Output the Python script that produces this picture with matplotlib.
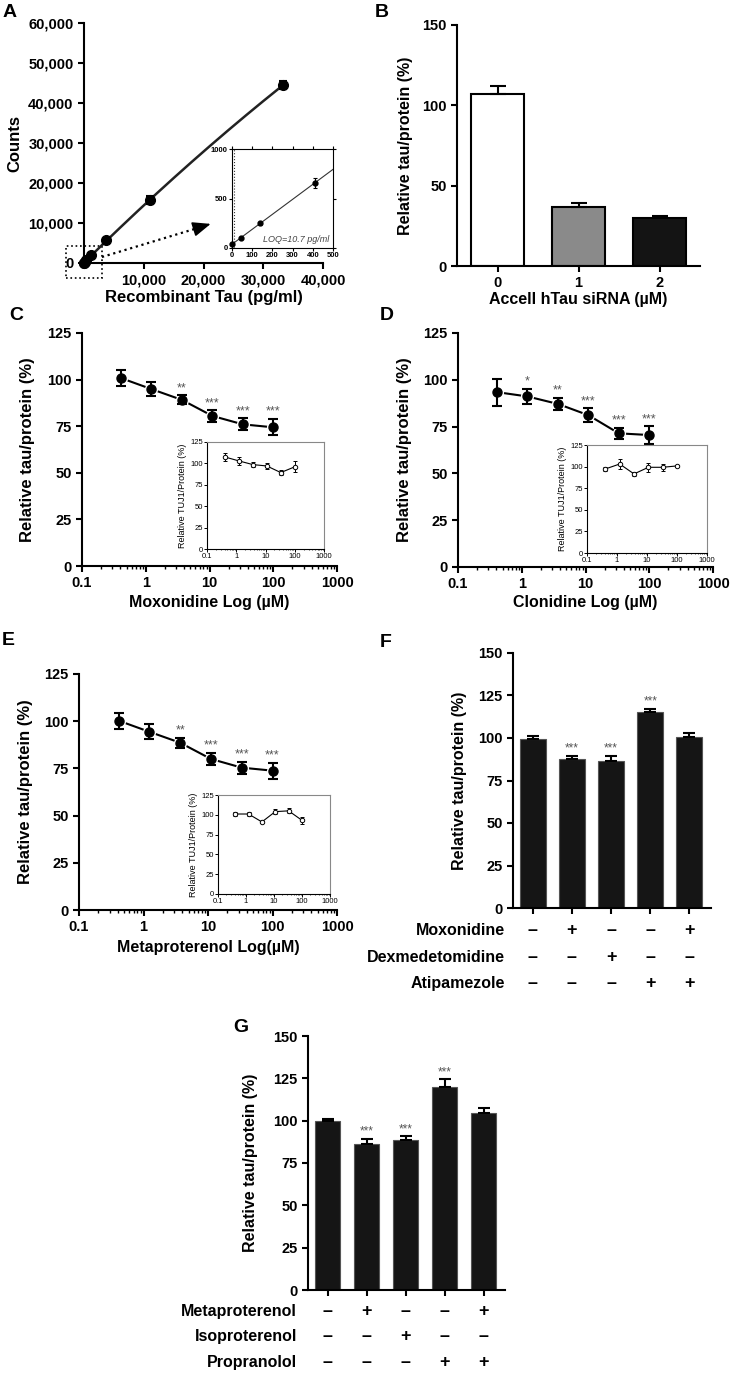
import numpy as np
import matplotlib.pyplot as plt
from matplotlib.patches import Rectangle

plt.rcParams['font.family'] = ['Liberation Sans', 'DejaVu Sans']
plt.rcParams['font.weight'] = 'bold'
plt.rcParams['axes.labelweight'] = 'bold'
plt.rcParams['axes.linewidth'] = 1.5

# A - standard curve
tau_conc = [0, 46, 137, 412, 1235, 3704, 11111, 33333]
tau_counts = [40, 100, 250, 660, 1900, 5800, 15800, 44500]
tau_err = [10, 10, 15, 50, 80, 150, 1000, 1000]
n_low = 4  # points shown in the zoomed inset
loq = 10.7

# B - siRNA
sirna_dose = ['0', '1', '2']
sirna_tau = [107.0, 36.7, 30.0]
sirna_err = [5.0, 2.3, 1.2]
sirna_colors = ['white', '#8a8a8a', '#141414']

# C, D, E - dose response
dose_um = [0.41, 1.23, 3.7, 11.1, 33.3, 100]
dose_ticks = ['0.1', '1', '10', '100', '1000']

moxo_tau = [100.8, 94.9, 89.1, 80.5, 76.0, 74.4]
moxo_err = [4.2, 3.9, 2.4, 3.0, 3.2, 4.3]
moxo_stars = ['', '', '**', '***', '***', '***']
moxo_tuj1 = [107.5, 102.9, 98.6, 97.0, 89.3, 96.0]
moxo_tuj1_err = [5, 5, 3, 3.5, 3, 6.5]

clon_tau = [93.4, 91.1, 87.1, 81.1, 71.4, 70.5]
clon_err = [7.2, 4.1, 3.4, 3.6, 3.0, 4.6]
clon_stars = ['', '*', '**', '***', '***', '***']
clon_tuj1 = [97.3, 103.0, 91.5, 99.2, 99.2, 100.8]
clon_tuj1_err = [2, 6, 2, 5.5, 4, 0.8]

meta_tau = [100.3, 94.4, 88.6, 80.0, 75.4, 73.8]
meta_err = [4.2, 3.9, 2.6, 3.0, 3.2, 4.3]
meta_stars = ['', '', '**', '***', '***', '***']
meta_tuj1 = [101, 101, 91, 104, 105, 93]
meta_tuj1_err = [3, 2, 1, 3, 3, 4]

# F - alpha2 agonists / antagonist
f_tau = [99.4, 87.6, 86.3, 115.5, 100.6]
f_err = [1.6, 2.0, 3.1, 1.5, 2.1]
f_stars = ['', '***', '***', '***', '']
f_rows = ['Moxonidine', 'Dexmedetomidine', 'Atipamezole']
f_signs = [['-', '+', '-', '-', '+'],
           ['-', '-', '+', '-', '-'],
           ['-', '-', '-', '+', '+']]

# G - beta agonists / antagonist
g_tau = [99.8, 86.4, 88.6, 119.9, 104.7]
g_err = [1.4, 2.6, 2.1, 4.5, 2.6]
g_stars = ['', '***', '***', '***', '']
g_rows = ['Metaproterenol', 'Isoproterenol', 'Propranolol']
g_signs = [['-', '+', '-', '-', '+'],
           ['-', '-', '+', '-', '-'],
           ['-', '-', '-', '+', '+']]

W, H = 736, 1378
fig = plt.figure(figsize=(W / 100, H / 100), dpi=100)


def px_axes(left, top, right, bottom):
    return fig.add_axes([left / W, 1 - bottom / H, (right - left) / W, (bottom - top) / H])


def letter(s, x, y):
    fig.text(x / W, 1 - y / H, s, fontsize=14, fontweight='bold', ha='left', va='top')


def clean(ax, size=10.5):
    ax.spines['top'].set_visible(False)
    ax.spines['right'].set_visible(False)
    ax.tick_params(width=1.5, length=4, labelsize=size)


def put_stars(ax, xs, tops, stars, size=9):
    for x, t, s in zip(xs, tops, stars):
        if s:
            ax.annotate(s, (x, t), xytext=(0, 1), textcoords='offset points',
                        ha='center', va='bottom', fontsize=size,
                        fontweight='normal', color='#555555')


# ---------- A ----------
ax = px_axes(84, 23, 323, 263)
clean(ax)
fit = np.polyfit(tau_conc, tau_counts, 2)
xs = np.linspace(0, max(tau_conc), 200)
ax.plot(xs, np.polyval(fit, xs), color='#222222', lw=1.8)
ax.errorbar(tau_conc, tau_counts, yerr=tau_err, fmt='o', ms=7, color='black',
            capsize=3, elinewidth=1.5, capthick=1.5, clip_on=False, zorder=3)
ax.set_xlim(0, 40000)
ax.set_ylim(0, 60000)
ax.set_xticks([10000, 20000, 30000, 40000])
ax.set_yticks(range(0, 60001, 10000))
ax.xaxis.set_major_formatter(lambda v, p: f'{int(v):,}')
ax.yaxis.set_major_formatter(lambda v, p: f'{int(v):,}')
ax.set_ylabel('Counts', fontsize=12)
ax.set_xlabel('Recombinant Tau (pg/ml)', fontsize=12)
ax.yaxis.set_label_coords(-0.259, 0.5)
ax.xaxis.set_label_coords(0.5, -0.112)
ax.xaxis.label.set_va('top')
ax.add_patch(Rectangle((-0.075, -0.0625), 0.15, 0.134, transform=ax.transAxes,
                       fill=False, ls=':', lw=1.2, clip_on=False))
# dotted zoom arrow with a solid head
ax.plot([0.075, 0.49], [0.025, 0.15], ls=':', lw=1.6, color='black',
        transform=ax.transAxes, clip_on=False)
ax.annotate('', xy=(0.53, 0.163), xytext=(0.475, 0.146), xycoords='axes fraction',
            arrowprops=dict(arrowstyle='-|>,head_length=1.1,head_width=0.45',
                            lw=1.2, color='black', shrinkA=0, shrinkB=0))

ai = px_axes(232, 149, 333, 248)
lo_x, lo_y, lo_e = tau_conc[:n_low], tau_counts[:n_low], tau_err[:n_low]
lin = np.polyfit(lo_x, lo_y, 1)
ai.plot([0, 500], np.polyval(lin, [0, 500]), color='#333333', lw=0.8)
ai.errorbar(lo_x, lo_y, yerr=lo_e, fmt='o', ms=3.5, color='black', capsize=1.5,
            elinewidth=0.8, capthick=0.8, clip_on=False, zorder=3)
ai.axvline(loq, color='#333333', ls=':', lw=0.8)
ai.set_xlim(0, 500)
ai.set_ylim(0, 1000)
ai.set_xticks(range(0, 501, 100))
ai.set_yticks([0, 500, 1000])
ai.tick_params(labelsize=5.5, length=2, width=0.8, pad=1, top=True, right=True)
for s in ai.spines.values():
    s.set_linewidth(0.8)
ai.text(0.96, 0.04, 'LOQ=10.7 pg/ml', transform=ai.transAxes, ha='right', va='bottom',
        fontsize=6.5, fontstyle='italic', fontweight='normal', color='#444444')

# ---------- B ----------
ax = px_axes(457, 25, 700, 266)
clean(ax)
bx = np.arange(len(sirna_dose))
ax.bar(bx, sirna_tau, width=0.66, color=sirna_colors, edgecolor='black', lw=1.5)
ax.errorbar(bx, sirna_tau, yerr=[np.zeros(len(bx)), sirna_err], fmt='none',
            ecolor='black', capsize=6, elinewidth=1.5, capthick=1.5)
ax.set_xlim(-0.5, 2.5)
ax.set_ylim(0, 150)
ax.set_yticks([0, 50, 100, 150])
ax.set_xticks(bx, sirna_dose)
ax.set_ylabel('Relative tau/protein (%)', fontsize=11.5)
ax.set_xlabel('Accell hTau siRNA (\u00b5M)', fontsize=11.5)
ax.yaxis.set_label_coords(-0.181, 0.5)
ax.xaxis.set_label_coords(0.5, -0.108)
ax.xaxis.label.set_va('top')


# ---------- C, D, E ----------
def dose_panel(box, ibox, tau, err, stars, tuj1, tuj1_err, xlabel, ylab_x, xlab_y):
    ax = px_axes(*box)
    clean(ax)
    ax.plot(dose_um, tau, color='black', lw=1.5, zorder=1)
    ax.plot(dose_um, tau, 'o', ms=6.5, mfc='black', mec='white', mew=3, zorder=2)
    ax.errorbar(dose_um, tau, yerr=err, fmt='o', ms=6.5, color='black', capsize=3.5,
                elinewidth=1.5, capthick=1.5, zorder=3)
    put_stars(ax, dose_um, np.add(tau, err), stars)
    ax.set_xscale('log')
    ax.set_xlim(0.1, 1000)
    ax.set_ylim(0, 125)
    ax.set_yticks(range(0, 126, 25))
    ax.set_xticks([0.1, 1, 10, 100, 1000], dose_ticks)
    ax.tick_params(axis='x', which='minor', length=2, width=1)
    ax.set_ylabel('Relative tau/protein (%)', fontsize=12)
    ax.set_xlabel(xlabel, fontsize=11.5)
    ax.yaxis.set_label_coords(ylab_x, 0.5)
    ax.xaxis.set_label_coords(0.5, xlab_y)
    ax.xaxis.label.set_va('top')

    ai = px_axes(*ibox)
    ai.plot(dose_um, tuj1, color='black', lw=0.8)
    ai.errorbar(dose_um, tuj1, yerr=tuj1_err, fmt='o', ms=3.2, mfc='white', mec='black',
                mew=0.7, ecolor='black', capsize=1.3, elinewidth=0.7, capthick=0.7)
    ai.set_xscale('log')
    ai.set_xlim(0.1, 1000)
    ai.set_ylim(0, 125)
    ai.set_yticks(range(0, 126, 25))
    ai.set_xticks([0.1, 1, 10, 100, 1000], dose_ticks)
    ai.tick_params(labelsize=5.5, length=2, width=0.7, pad=1)
    ai.tick_params(axis='x', which='minor', length=1, width=0.5)
    for t in ai.get_xticklabels() + ai.get_yticklabels():
        t.set_fontweight('normal')
    for k, s in ai.spines.items():
        s.set_linewidth(0.8)
        if k in ('top', 'right'):
            s.set_color('#888888')
    ai.set_ylabel('Relative TUJ1/Protein (%)', fontsize=6.5, fontweight='normal',
                  labelpad=2)


dose_panel((82, 333, 337, 566), (207, 442, 324, 549), moxo_tau, moxo_err, moxo_stars,
           moxo_tuj1, moxo_tuj1_err, 'Moxonidine Log (\u00b5M)', -0.184, -0.124)
dose_panel((458, 333, 713, 567), (587, 445, 707, 553), clon_tau, clon_err, clon_stars,
           clon_tuj1, clon_tuj1_err, 'Clonidine Log (\u00b5M)', -0.18, -0.12)
dose_panel((79, 674, 337, 910), (218, 795, 330, 894), meta_tau, meta_err, meta_stars,
           meta_tuj1, meta_tuj1_err, 'Metaproterenol Log(\u00b5M)', -0.178, -0.127)


# ---------- F, G ----------
def bar_panel(box, tau, err, stars, rows, signs, ylab_x, row_y, row_lab_x):
    ax = px_axes(*box)
    clean(ax)
    bx = np.arange(len(tau))
    ax.bar(bx, tau, width=0.66, color='#151515', edgecolor='#555555', lw=0.8)
    ax.errorbar(bx, tau, yerr=[np.zeros(len(bx)), err], fmt='none', ecolor='black',
                capsize=4.5, elinewidth=1.5, capthick=1.5)
    put_stars(ax, bx, np.add(tau, err), stars, size=8.5)
    ax.set_xlim(-0.5, 4.55)
    ax.set_ylim(0, 150)
    ax.set_yticks(range(0, 151, 25))
    ax.set_xticks(bx, [''] * len(bx))
    ax.set_ylabel('Relative tau/protein (%)', fontsize=11.5)
    ax.yaxis.set_label_coords(ylab_x, 0.5)
    tr = ax.get_xaxis_transform()
    for name, row, y in zip(rows, signs, row_y):
        ax.text(row_lab_x, y, name, transform=ax.transAxes, ha='right', va='center',
                fontsize=11.5)
        for x, s in zip(bx, row):
            ax.text(x, y, '+' if s == '+' else '\u2013', transform=tr, ha='center',
                    va='center', fontsize=13, fontweight='bold')


bar_panel((513, 653, 711, 908), f_tau, f_err, f_stars, f_rows, f_signs,
          -0.232, [-0.09, -0.193, -0.295], -0.04)
bar_panel((308, 1036, 505, 1290), g_tau, g_err, g_stars, g_rows, g_signs,
          -0.254, [-0.083, -0.185, -0.287], -0.056)

letter('A', 3, 4)
letter('B', 375, 4)
letter('C', 9, 307)
letter('D', 380, 307)
letter('E', 2, 632)
letter('F', 380, 634)
letter('G', 233, 1019)

fig.savefig('out.png', dpi=100)
